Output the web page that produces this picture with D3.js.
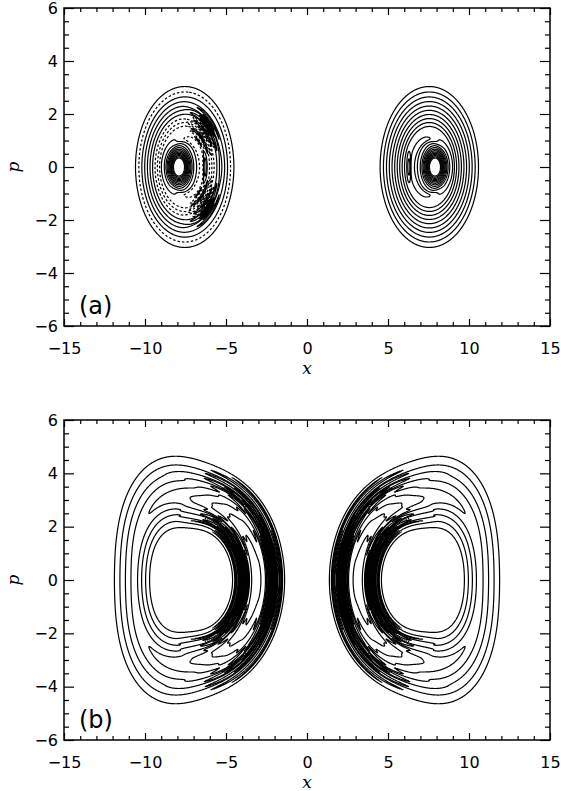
<!DOCTYPE html>
<html lang="en">
<head>
<meta charset="UTF-8">
<title>Phase space contours</title>
<script src="https://cdn.jsdelivr.net/npm/d3@7"></script>
<style>
    body { margin: 0; background: #fff; }
    .frame { fill: none; stroke: #000; stroke-width: 1.5; }
    .contour { fill: none; stroke: #000; stroke-width: 1.2; stroke-linejoin: round; }
    .axis path { display: none; }
    .axis line { stroke: #000; stroke-width: 1.2; }
    .axis text { font-family: "DejaVu Sans", sans-serif; font-size: 16px; fill: #000; }
    .axisTitle { font-family: "DejaVu Serif", serif; font-style: italic; font-size: 17px; }
    .panelLabel { font-family: "DejaVu Sans", sans-serif; font-size: 24px; }
</style>
</head>
<body>
<svg id="chart"></svg>
<script>

    // Axes
    var xDomain = [-15, 15];
    var pDomain = [-6, 6];
    var xTicks = [-15, -10, -5, 0, 5, 10, 15];
    var pTicks = [-6, -4, -2, 0, 2, 4, 6];
    var panelNames = ["(a)", "(b)"];

    // Panel (a): two round blobs
    var blobCentersA = [-7.55, 7.55];
    var profileA = [3.25, 1.5, 1.2];        // edge radius, plateau radius, exponent
    var coreA = [0.8, 0.6, -0.35];          // height, width, offset away from x = 0
    var dipA = [0.1, 1.05, 0.12];           // depth, radius, width
    var bumpA = [0.12, 1.25, 0.12, 0.5];    // height, offset, width in x, width in p
    var patchA = [0.22, 1.95, 0.5, 0.22, 0.85, 0.45]; // amp, radius, width, wavelength, angle, spread
    var levelsA = [0.08, 0.18, 0.28, 0.38, 0.48, 0.58, 0.68, 0.78, 0.88, 0.98,
                   1.03, 1.08, 1.13, 1.18, 1.23, 1.28, 1.33, 1.38, 1.43, 1.48, 1.53, 1.58];
    var dashedLevelsA = [0.18, 0.78, 0.88, 0.98];

    // Panel (b): two teardrop rings with fringes on the inner side
    var lobeCentersB = [-7.8, 7.8];
    var ringInnerB = [2.04, 0.523, 0.30, 0.147];     // cos 0..3 terms of the hole edge
    var ringOuterB = [5.26, 0.77, 0.31, 0.371];      // cos 0..3 terms of the outer edge
    var ringPeakB = 0.42;
    var ringHeightB = [0.8, 0.15, 0.15];             // const, sin^2, inner side
    var bandB = [0.75, 0.22, 0.74, 0.05, 1.0];       // height, inner edge, outer edge, sharpness, spread
    var rippleB = [0.42, 0.065, 0.12];               // amp, wavelength, width
    var levelsB = [0.17, 0.34, 0.51, 0.68, 0.85, 1.02, 1.19, 1.36, 1.53];

    // Layout
    var width = 561;
    var height = 791;
    var plotLeft = 64;
    var plotRight = 550;
    var panels = [
        {top: 8, bottom: 326},
        {top: 420, bottom: 740}
    ];

    // Grid
    var step = 0.03;
    var nx = Math.round((xDomain[1] - xDomain[0]) / step) + 1;
    var ny = Math.round((pDomain[1] - pDomain[0]) / step) + 1;

    function gridField(fn) {
        var values = new Float64Array(nx * ny);
        for (var j = 0; j < ny; j++) {
            var p = pDomain[0] + j * step;
            for (var i = 0; i < nx; i++) {
                values[i + j * nx] = fn(xDomain[0] + i * step, p);
            }
        }
        return values;
    }

    function sq(a) { return a * a; }
    function sig(z) { return 1 / (1 + Math.exp(-z)); }
    function harmonics(c, th) {
        return c[0] + c[1] * Math.cos(th) + c[2] * Math.cos(2 * th) + c[3] * Math.cos(3 * th);
    }

    function blobA(cx, withPatches) {
        var side = cx < 0 ? 1 : -1;   // u points towards x = 0
        return function (x, p) {
            var u = (x - cx) * side, v = p;
            var r = Math.hypot(u, v);
            var th = Math.atan2(v, u);
            var s = Math.max(0, Math.min(1, (profileA[0] - r) / (profileA[0] - profileA[1])));
            var f = Math.pow(s, profileA[2]);
            f += coreA[0] * Math.exp(-(sq(u - coreA[2]) + v * v) / sq(coreA[1]));
            f -= dipA[0] * (1 + Math.cos(th)) / 2 * Math.exp(-sq((r - dipA[1]) / dipA[2]));
            f += bumpA[0] * Math.exp(-sq((u - bumpA[1]) / bumpA[2]) - sq(v / bumpA[3]));
            if (withPatches) {
                f += patchA[0] * Math.exp(-sq((Math.abs(th) - patchA[4]) / patchA[5])) *
                    Math.exp(-sq((r - patchA[1]) / patchA[2])) *
                    Math.cos(2 * Math.PI * (r - patchA[1]) / patchA[3]);
            }
            return f;
        };
    }

    function lobeB(cx) {
        var side = cx < 0 ? 1 : -1;
        return function (x, p) {
            var u = (x - cx) * side, v = p;
            var rho = Math.hypot(u, v);
            var th = Math.atan2(v, u);
            var rIn = harmonics(ringInnerB, th);
            var rOut = harmonics(ringOuterB, th);
            var t = (rho - rIn) / (rOut - rIn);
            var w = Math.exp(-sq(th / bandB[4]));
            var a = t / ringPeakB, b = (1 - t) / (1 - ringPeakB), k = 0.08;
            var tent = Math.max(0, -k * Math.log(Math.exp(-a / k) + Math.exp(-b / k)));
            var A = ringHeightB[0] + ringHeightB[1] * sq(Math.sin(th)) + ringHeightB[2] * w;
            var f = A * tent;
            f += w * bandB[0] * (sig((t - bandB[1]) / bandB[3]) - sig((t - bandB[2]) / bandB[3]));
            var edge = Math.exp(-sq((t - bandB[1]) / rippleB[2])) +
                Math.exp(-sq((t - bandB[2]) / rippleB[2]));
            f += w * rippleB[0] * edge * Math.cos(2 * Math.PI * t / rippleB[1]);
            return f;
        };
    }

    var panelFields = [
        [
            {fn: blobA(blobCentersA[0], true), levels: levelsA, dashed: dashedLevelsA},
            {fn: blobA(blobCentersA[1], false), levels: levelsA, dashed: []}
        ],
        [
            {fn: lobeB(lobeCentersB[0]), levels: levelsB, dashed: []},
            {fn: lobeB(lobeCentersB[1]), levels: levelsB, dashed: []}
        ]
    ];

    var svg = d3.select("#chart")
        .attr("width", width)
        .attr("height", height);

    var minus = function (d) {
        return d < 0 ? "\u2212" + Math.abs(d) : String(d);
    };

    panels.forEach(function (panel, k) {
        var xScale = d3.scaleLinear().domain(xDomain).range([plotLeft, plotRight]);
        var yScale = d3.scaleLinear().domain(pDomain).range([panel.bottom, panel.top]);

        var path = d3.geoPath(d3.geoTransform({
            point: function (gx, gy) {
                this.stream.point(
                    xScale(xDomain[0] + (gx - 0.5) * step),
                    yScale(pDomain[0] + (gy - 0.5) * step));
            }
        }));

        svg.append("clipPath")
            .attr("id", "clip" + k)
            .append("rect")
            .attr("x", plotLeft)
            .attr("y", panel.top)
            .attr("width", plotRight - plotLeft)
            .attr("height", panel.bottom - panel.top);

        var plot = svg.append("g").attr("clip-path", "url(#clip" + k + ")");

        panelFields[k].forEach(function (field) {
            var values = gridField(field.fn);
            var sets = d3.contours().size([nx, ny]).thresholds(field.levels)(values);

            plot.append("g")
                .selectAll("path")
                .data(sets)
                .enter()
                .append("path")
                .attr("class", "contour")
                .attr("d", path)
                .attr("stroke-dasharray", function (d) {
                    return field.dashed.indexOf(d.value) >= 0 ? "2.5,2" : null;
                });
        });

        // ticks, inward on all four sides
        var xMinor = d3.range(-15, 16, 1).filter(function (v) { return v % 5 !== 0; });
        var pMinor = d3.range(-6, 6.01, 0.5).filter(function (v) { return v % 2 !== 0; });

        svg.append("g").attr("class", "axis")
            .attr("transform", "translate(0," + panel.bottom + ")")
            .call(d3.axisBottom(xScale).tickValues(xTicks).tickFormat(minus)
                .tickSizeInner(-7).tickSizeOuter(0).tickPadding(17));
        svg.append("g").attr("class", "axis")
            .attr("transform", "translate(0," + panel.bottom + ")")
            .call(d3.axisBottom(xScale).tickValues(xMinor).tickFormat("")
                .tickSizeInner(-4).tickSizeOuter(0));
        svg.append("g").attr("class", "axis")
            .attr("transform", "translate(0," + panel.top + ")")
            .call(d3.axisTop(xScale).tickValues(xTicks).tickFormat("")
                .tickSizeInner(-7).tickSizeOuter(0));
        svg.append("g").attr("class", "axis")
            .attr("transform", "translate(0," + panel.top + ")")
            .call(d3.axisTop(xScale).tickValues(xMinor).tickFormat("")
                .tickSizeInner(-4).tickSizeOuter(0));

        svg.append("g").attr("class", "axis")
            .attr("transform", "translate(" + plotLeft + ",0)")
            .call(d3.axisLeft(yScale).tickValues(pTicks).tickFormat(minus)
                .tickSizeInner(-10).tickSizeOuter(0).tickPadding(6));
        svg.append("g").attr("class", "axis")
            .attr("transform", "translate(" + plotLeft + ",0)")
            .call(d3.axisLeft(yScale).tickValues(pMinor).tickFormat("")
                .tickSizeInner(-5).tickSizeOuter(0));
        svg.append("g").attr("class", "axis")
            .attr("transform", "translate(" + plotRight + ",0)")
            .call(d3.axisRight(yScale).tickValues(pTicks).tickFormat("")
                .tickSizeInner(-10).tickSizeOuter(0));
        svg.append("g").attr("class", "axis")
            .attr("transform", "translate(" + plotRight + ",0)")
            .call(d3.axisRight(yScale).tickValues(pMinor).tickFormat("")
                .tickSizeInner(-5).tickSizeOuter(0));

        svg.append("rect")
            .attr("class", "frame")
            .attr("x", plotLeft)
            .attr("y", panel.top)
            .attr("width", plotRight - plotLeft)
            .attr("height", panel.bottom - panel.top);

        // titles
        svg.append("text")
            .attr("class", "axisTitle")
            .attr("x", xScale(0))
            .attr("y", panel.bottom + 48)
            .attr("text-anchor", "middle")
            .text("x");

        svg.append("text")
            .attr("class", "axisTitle")
            .attr("transform", "translate(19," + yScale(0) + ") rotate(-90)")
            .attr("text-anchor", "middle")
            .text("p");

        svg.append("text")
            .attr("class", "panelLabel")
            .attr("x", 79)
            .attr("y", panel.bottom - 12)
            .text(panelNames[k]);
    });

</script>
</body>
</html>
